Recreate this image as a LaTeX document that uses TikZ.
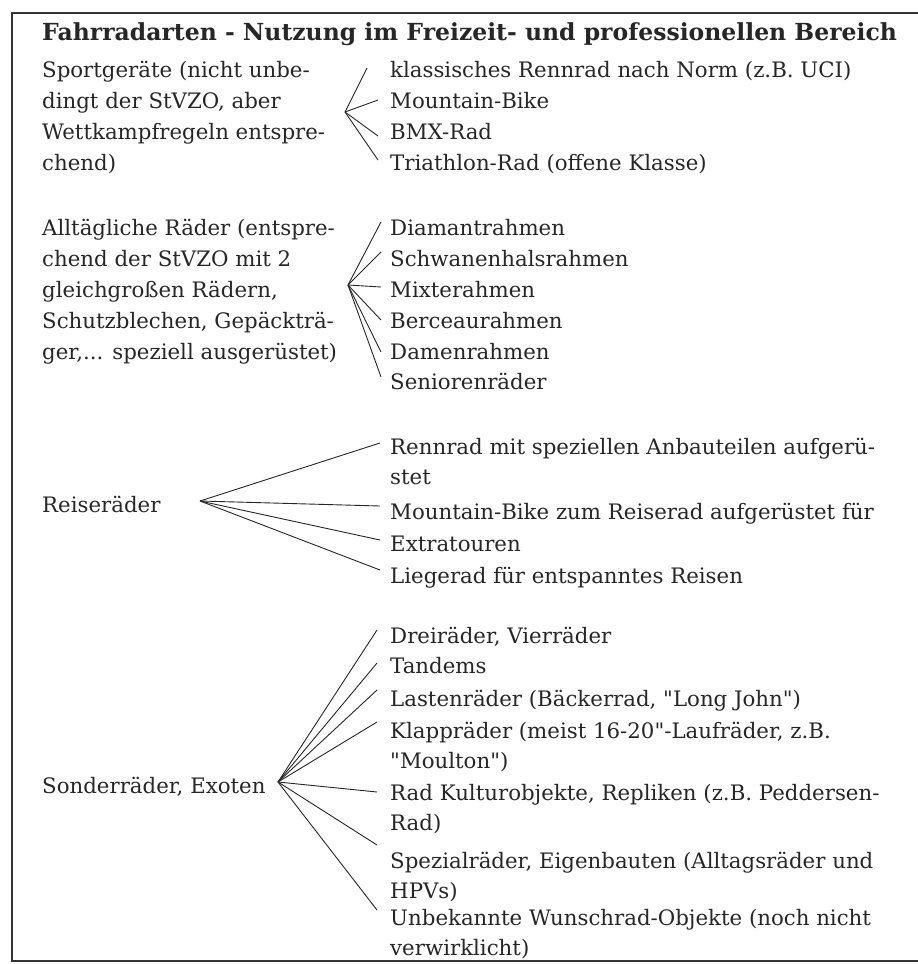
\documentclass[tikz,border=0pt]{standalone}
\usepackage{fontspec}
\setmainfont{DejaVu Serif}[Ligatures=TeXOff]
\usetikzlibrary{calc}

\begin{document}
\begin{tikzpicture}[x=1pt, y=-1pt,
  every node/.style={inner sep=0pt, text=black!85},
  kopf/.style={anchor=base west, font=\bfseries\fontsize{23.5}{26}\selectfont},
  gruppe/.style={anchor=base west, align=left, font=\fontsize{21.3}{31}\selectfont},
  eintrag/.style={anchor=base west, align=left, font=\fontsize{21.3}{30}\selectfont},
  ast/.style={line width=0.9pt, black!85}]
  \useasboundingbox (0,0) rectangle (918,964);
  \draw[line width=1.4pt, black!80] (918,13) -- (12,13) -- (12,961) -- (918,961);

  \node[kopf] (titel) at (42,40) {Fahrradarten - Nutzung im Freizeit- und professionellen Bereich};

  % Sportgeraete (base = letzte Zeile)
  \node[gruppe] (sport) at (42,170) {Sportgeräte (nicht unbe-\\dingt der StVZO, aber\\Wettkampfregeln entspre-\\chend)};
  \coordinate (sportfan) at (345,112);
  \node[eintrag] (norm) at (390,77) {klassisches Rennrad nach Norm (z.B. UCI)};
  \node[eintrag] (mtb) at (390,108) {Mountain-Bike};
  \node[eintrag] (bmx) at (390,139) {BMX-Rad};
  \node[eintrag] (triathlon) at (390,170) {Triathlon-Rad (offene Klasse)};
  \foreach \z/\dx/\dy in {norm/-23/9, mtb/-12/8, bmx/-12/3, triathlon/-12/10}
    \draw[ast] (sportfan) -- ($(\z.base west)+(\dx pt,\dy pt)$);

  % Alltagsraeder
  \node[gruppe] (alltag) at (42,359) {Alltägliche Räder (entspre-\\chend der StVZO mit 2\\gleichgroßen Rädern,\\Schutzblechen, Gepäckträ-\\ger,... speziell ausgerüstet)};
  \coordinate (alltagfan) at (348,285);
  \node[eintrag] (diamant) at (390,235) {Diamantrahmen};
  \node[eintrag] (schwan) at (390,266) {Schwanenhalsrahmen};
  \node[eintrag] (mixte) at (390,297) {Mixterahmen};
  \node[eintrag] (berceau) at (390,328) {Berceaurahmen};
  \node[eintrag] (damen) at (390,359) {Damenrahmen};
  \node[eintrag] (senior) at (390,389) {Seniorenräder};
  \foreach \z/\dy in {diamant/13, schwan/14, mixte/10, berceau/8, damen/7, senior/12}
    \draw[ast] (alltagfan) -- ($(\z.base west)+(-9pt,\dy pt)$);

  % Reiseraeder
  \node[gruppe] (reise) at (42,512) {Reiseräder};
  \coordinate (reisefan) at (200,501);
  \node[eintrag] (tourrenner) at (390,484) {Rennrad mit speziellen Anbauteilen aufgerü-\\stet};
  \node[eintrag] (tourmtb) at (390,519) {Mountain-Bike zum Reiserad aufgerüstet für};
  \node[eintrag] (extra) at (390,551) {Extratouren};
  \node[eintrag] (liege) at (390,583) {Liegerad für entspanntes Reisen};
  \foreach \z/\dy in {tourrenner/41, tourmtb/13, extra/11, liege/13}
    \draw[ast] (reisefan) -- ($(\z.base west)+(-10pt,\dy pt)$);

  % Sonderraeder
  \node[gruppe] (sonder) at (42,793) {Sonderräder, Exoten};
  \coordinate (sonderfan) at (278,782);
  \node[eintrag] (dreirad) at (390,643) {Dreiräder, Vierräder};
  \node[eintrag] (tandem) at (390,673) {Tandems};
  \node[eintrag] (lasten) at (390,706) {Lastenräder (Bäckerrad, "Long John")};
  \node[eintrag] (klapp) at (390,768) {Klappräder (meist 16-20"-Laufräder, z.B.\\"Moulton")};
  \node[eintrag] (kultur) at (390,830) {Rad Kulturobjekte, Repliken (z.B. Peddersen-\\Rad)};
  \node[eintrag] (spezial) at (390,898) {Spezialräder, Eigenbauten (Alltagsräder und\\HPVs)};
  \node[eintrag] (wunsch) at (390,955) {Unbekannte Wunschrad-Objekte (noch nicht\\verwirklicht)};
  \foreach \z/\dy in {dreirad/13, tandem/10, lasten/16, klapp/46, kultur/38, spezial/53, wunsch/45}
    \draw[ast] (sonderfan) -- ($(\z.base west)+(-13pt,\dy pt)$);
\end{tikzpicture}
\end{document}
